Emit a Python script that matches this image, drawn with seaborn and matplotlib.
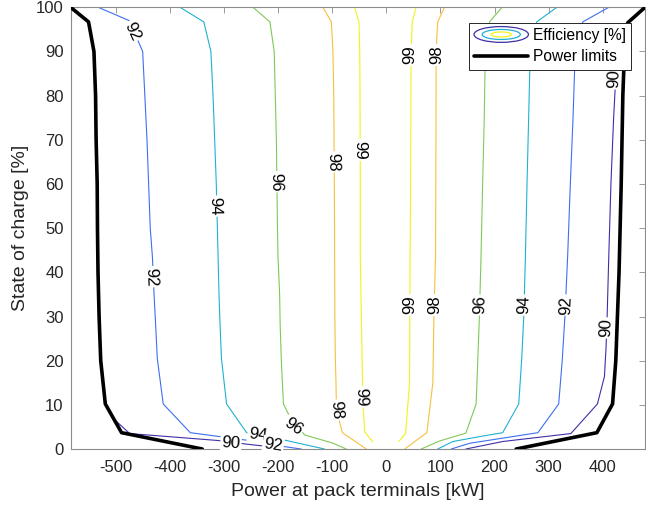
"""
Battery pack efficiency map: efficiency contours vs. power and state of charge,
with the pack power limits drawn on top.
"""

# === 1. IMPORTS ===
import matplotlib
matplotlib.use("Agg")
import matplotlib.pyplot as plt
import seaborn as sns
from matplotlib.legend_handler import HandlerBase
from matplotlib.patches import Ellipse
from matplotlib.lines import Line2D

# === 2. DATA ===
levels = [90, 92, 94, 96, 98, 99]
level_colors = ["#3e2fa8", "#3d6ff2", "#1fb1d3", "#80c85b", "#f8c03d", "#f2f21c"]

# power limits [kW] vs SOC [%]
limit_left_p = [-583, -550, -540, -537, -536, -534, -533.5, -532.5, -530.5, -527.5, -519, -489, -340]
limit_left_soc = [100, 96.7, 90, 80, 70, 60, 50, 40, 30, 20, 10.2, 3.7, 0]
limit_right_p = [240, 389, 418, 424, 427, 430, 432, 434, 435.5, 437, 440, 446, 478]
limit_right_soc = [0, 3.7, 10.2, 20, 30, 40, 50, 60, 70, 80, 90, 96.5, 100]

# efficiency contours, charging side (negative power)
eff90_left_p = [-498, -474, -308, -258, -228, -200]
eff90_left_soc = [6.2, 3.5, 1.9, 1.1, 0.7, 0]
eff92_left_p = [-532, -475, -450, -446, -442, -439, -436, -432, -429, -426, -423, -412, -362, -258, -215, -157]
eff92_left_soc = [100, 97, 90, 80, 70, 60, 50, 43.5, 35, 28, 20.5, 10.2, 3.7, 2.0, 1.0, 0]
eff94_left_p = [-381, -337, -324, -320, -317, -314, -312, -310.7, -309, -307, -304.5, -295, -258, -209, -114]
eff94_left_soc = [100, 96.7, 90, 80, 70, 60, 50, 43.5, 35, 28, 20.5, 10.2, 3.7, 2.6, 0]
eff96_left_p = [-246, -215, -207, -205, -203, -202, -201, -200, -197, -196, -194, -190, -181, -151, -98, -74]
eff96_left_soc = [100, 96.7, 90, 80, 70, 60, 50, 43.5, 35, 28, 20.5, 10.2, 8, 3.2, 1.3, 0]
eff98_left_p = [-117, -101.5, -98.5, -97, -96.5, -96, -95.5, -95.4, -95, -94, -93, -92, -81, -37]
eff98_left_soc = [100, 96.7, 90, 80, 70, 60, 50, 43.5, 30, 20, 15.6, 8.8, 3.7, 0]
eff99_left_p = [-58.5, -50.5, -49, -48.5, -48, -48, -46, -44, -43, -40, -24.7]
eff99_left_soc = [100, 96.7, 90, 80, 60, 43.5, 30, 15.6, 10, 3.9, 1.6]

# efficiency contours, discharging side (positive power)
eff90_right_p = [147, 215, 341, 390, 403, 406, 408, 411, 415, 420, 423, 428]
eff90_right_soc = [0, 1.7, 3.5, 10.2, 16.4, 23, 30, 43.5, 60, 75, 82, 92]
eff92_right_p = [120, 154, 280, 318.5, 325, 330, 335, 340, 345, 349, 363, 411]
eff92_right_soc = [0, 1.3, 3.7, 10.2, 20, 30, 43.5, 60, 75, 90, 96.7, 100]
eff94_right_p = [95, 123, 172, 215, 244.7, 250, 254, 257, 260, 263, 266, 278, 315]
eff94_right_soc = [0, 1.7, 2.8, 3.7, 10.2, 20, 30, 43.5, 60, 75, 90, 96.7, 100]
eff96_right_p = [64.6, 98, 147, 166, 169, 172, 175, 178, 181, 183, 190.6, 214]
eff96_right_soc = [0, 1.8, 3.6, 10.2, 20, 30, 43.5, 60, 75, 90, 96.7, 100]
eff98_right_p = [34, 75, 86, 88, 91, 91.5, 92, 92, 95, 107.6]
eff98_right_soc = [0, 3.7, 14.9, 30, 43.5, 60, 80, 90, 96.7, 100]
eff99_right_p = [23, 35.6, 43, 43.5, 44, 45, 45.5, 46, 48, 55]
eff99_right_soc = [1.7, 3.5, 14.9, 30, 43.5, 60, 80, 90, 96.7, 100]

# inline contour labels: level, power, soc, text angle
label_level = [92, 92, 94, 96, 98, 99, 98, 99, 96, 94, 92, 90,
               99, 98, 90, 99, 98, 96, 94, 92, 90]
label_p = [-470, -434, -317, -203, -98, -48.5, -93, -46, -172, -237, -209, -287,
           43, 93, 421, 43.5, 89, 174, 255, 332, 406]
label_soc = [94.5, 39, 55, 60.5, 65, 67.7, 8.8, 11.8, 5, 3.2, 0.9, 1.3,
             89.2, 89.2, 83.8, 32.6, 32.6, 32.6, 32.6, 32.6, 27.4]
label_rot = [-65, -88, -89, -89, -89, -90, -86, -88, -35, -8, -9, -4,
             90, 90, 88, 90, 90, 88, 88, 88, 88]

# === 3. STYLE ===
sns.set_theme(style="white")
plt.rcParams['font.family'] = ['Liberation Sans', 'DejaVu Sans']
plt.rcParams['axes.unicode_minus'] = False

AX_GREY = "#8c8c8c"
TXT = "#262626"


class ContourIcon(HandlerBase):
    """Legend icon of three nested ellipses, like MATLAB's contour legend."""

    def create_artists(self, legend, orig_handle, xdescent, ydescent,
                       width, height, fontsize, trans):
        cx = width / 2 - xdescent
        cy = height / 2 - ydescent
        rings = [(1.0, 1.45, level_colors[0]),
                 (0.7, 0.92, level_colors[2]),
                 (0.37, 0.46, level_colors[5])]
        out = []
        for fw, fh, c in rings:
            out.append(Ellipse((cx, cy), width * fw, height * fh, fill=False,
                               ec=c, lw=0.9, transform=trans))
        return out


# === 4. PLOT ===
fig = plt.figure(figsize=(6.46, 5.08), dpi=100)
ax = fig.add_axes([0.1094, 0.1161, 0.8891, 0.8695])

contours = [
    (90, eff90_left_p, eff90_left_soc), (90, eff90_right_p, eff90_right_soc),
    (92, eff92_left_p, eff92_left_soc), (92, eff92_right_p, eff92_right_soc),
    (94, eff94_left_p, eff94_left_soc), (94, eff94_right_p, eff94_right_soc),
    (96, eff96_left_p, eff96_left_soc), (96, eff96_right_p, eff96_right_soc),
    (98, eff98_left_p, eff98_left_soc), (98, eff98_right_p, eff98_right_soc),
    (99, eff99_left_p, eff99_left_soc), (99, eff99_right_p, eff99_right_soc),
]
for lev, p, soc in contours:
    sns.lineplot(x=p, y=soc, sort=False, estimator=None, ax=ax,
                 color=level_colors[levels.index(lev)], lw=0.8, zorder=2)

for lev, p, soc, rot in zip(label_level, label_p, label_soc, label_rot):
    ax.text(p, soc, str(lev), rotation=rot, rotation_mode='anchor',
            ha='center', va='center', fontsize=12, color='black', zorder=3,
            bbox=dict(boxstyle='square,pad=0.08', fc='white', ec='none'))

for p, soc in [(limit_left_p, limit_left_soc), (limit_right_p, limit_right_soc)]:
    sns.lineplot(x=p, y=soc, sort=False, estimator=None, ax=ax,
                 color='black', lw=2.6, zorder=5)

ax.set_xlim(min(limit_left_p), max(limit_right_p))
ax.set_ylim(0, 100)
ax.set_xticks(range(-500, 401, 100))
ax.set_yticks(range(0, 101, 10))
ax.set_xlabel("Power at pack terminals [kW]", fontsize=14, color=TXT, labelpad=6)
ax.set_ylabel("State of charge [%]", fontsize=14, color=TXT, labelpad=5)

ax.tick_params(axis='both', direction='in', top=True, right=True, length=4,
               width=0.6, colors=AX_GREY, labelcolor=TXT, labelsize=12)
ax.tick_params(axis='x', pad=8)
ax.tick_params(axis='y', pad=5)
for s in ax.spines.values():
    s.set_color(AX_GREY)
    s.set_linewidth(0.8)
    s.set_visible(True)

eff_proxy = Line2D([], [])
lim_proxy = Line2D([], [], color='black', lw=2.6)
leg = ax.legend([eff_proxy, lim_proxy], ["Efficiency [%]", "Power limits"],
                handler_map={eff_proxy: ContourIcon()},
                loc='upper right', bbox_to_anchor=(0.976, 0.965), borderaxespad=0,
                fontsize=11.2, handlelength=3.5, handletextpad=0.3,
                borderpad=0.33, labelspacing=0.42, fancybox=False,
                framealpha=1, edgecolor='#262626')
leg.get_frame().set_linewidth(0.7)
leg.set_zorder(10)
for t in leg.get_texts():
    t.set_color('black')

fig.savefig("out.png", dpi=100)
plt.close(fig)
